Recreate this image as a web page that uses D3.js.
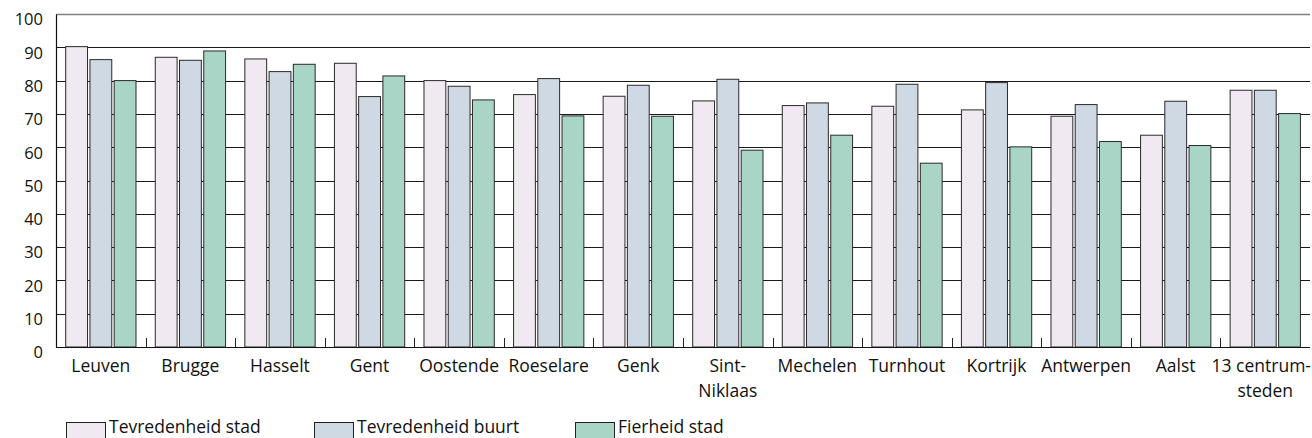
<!DOCTYPE html>
<html><head><meta charset="utf-8">
<script src="https://cdn.jsdelivr.net/npm/d3@7"></script>
<style>
body{margin:0;background:#fff;}
text{font-family:"Open Sans",sans-serif;fill:#111;}
</style></head>
<body><svg id="c" width="1312" height="438"></svg>
<script>
const categories = ["Leuven","Brugge","Hasselt","Gent","Oostende","Roeselare","Genk","Sint-|Niklaas","Mechelen","Turnhout","Kortrijk","Antwerpen","Aalst","13 centrum-|steden"];
const seriesNames = ["Tevredenheid stad","Tevredenheid buurt","Fierheid stad"];
const tevredenheidStad  = [90.2,87.0,86.5,85.2,80.0,75.8,75.3,73.9,72.5,72.3,71.2,69.3,63.6,77.1];
const tevredenheidBuurt = [86.3,86.1,82.7,75.2,78.3,80.6,78.6,80.4,73.3,78.9,79.4,72.8,73.8,77.1];
const fierheidStad      = [80.0,88.9,84.9,81.4,74.2,69.4,69.3,59.1,63.6,55.2,60.1,61.7,60.5,70.1];
const yTicks = [0,10,20,30,40,50,60,70,80,90,100];
const colors = ["#f0e9f1","#cfd9e3","#a8d5c6"];

const seriesValues = [tevredenheidStad, tevredenheidBuurt, fierheidStad];
const svg = d3.select("#c");
const W = 1312, L = 56, R = 1310, T = 14, B = 347;

const x0 = d3.scaleBand().domain(categories).range([L, R]).padding(0);
const x1 = d3.scaleBand().domain(seriesNames).range([9.7, 80]).paddingInner(0.1);
const y = d3.scaleLinear().domain([0,100]).range([B, T]);

// gridlines
svg.append("g").selectAll("line").data(yTicks.filter(d=>d>0 && d<100)).join("line")
  .attr("x1", L).attr("x2", R).attr("y1", d=>Math.round(y(d))+0.5).attr("y2", d=>Math.round(y(d))+0.5)
  .attr("stroke", "#1a1a1a").attr("stroke-width", 1);
// top border
svg.append("line").attr("x1", L).attr("x2", R).attr("y1", T+0.5).attr("y2", T+0.5)
  .attr("stroke", "#808080").attr("stroke-width", 1.5);

// bars
const groups = svg.append("g").selectAll("g").data(categories).join("g")
  .attr("transform", d=>`translate(${x0(d)},0)`);
groups.selectAll("rect").data((d,i)=>seriesNames.map((s,j)=>({s, v: seriesValues[j][i], j})))
  .join("rect")
  .attr("x", d=>x1(d.s)).attr("width", x1.bandwidth())
  .attr("y", d=>y(d.v)).attr("height", d=>B - y(d.v))
  .attr("fill", d=>colors[d.j]).attr("stroke", "#2a2a2a").attr("stroke-width", 1);

// y axis
const yAxis = d3.axisLeft(y).tickValues(yTicks).tickSize(0).tickPadding(13);
const ya = svg.append("g").attr("transform", `translate(${L},0)`).call(yAxis);
ya.select(".domain").attr("stroke", "#111").attr("stroke-width", 1.2);
ya.selectAll("text").style("font-size", "16.5px").attr("dy", "0.66em").attr("fill", "#111")
  .attr("font-family", "Open Sans");

// x axis baseline and ticks
svg.append("line").attr("x1", L).attr("x2", R).attr("y1", B+0.5).attr("y2", B+0.5)
  .attr("stroke", "#111").attr("stroke-width", 1.2);
svg.append("g").selectAll("line").data(categories.slice(1)).join("line")
  .attr("x1", d=>Math.round(x0(d))+0.5).attr("x2", d=>Math.round(x0(d))+0.5)
  .attr("y1", B).attr("y2", B-9).attr("stroke", "#222").attr("stroke-width", 1);

// x labels (each line centered under its group, kept inside the picture)
const lab = svg.append("g");
categories.forEach(d=>{
  const cx = x0(d) + x0.bandwidth()/2;
  d.split("|").forEach((p,i)=>{
    const t = lab.append("text").attr("y", 372 + i*25).style("font-size", "17.5px").text(p);
    const w = t.node().getComputedTextLength();
    const xs = Math.min(cx - w/2, W - 1 - w);
    t.attr("x", xs);
  });
});

// legend
const legX = [66, 314, 575];
const leg = svg.append("g").selectAll("g").data(seriesNames).join("g")
  .attr("transform", (d,i)=>`translate(${legX[i]},422)`);
leg.append("rect").attr("x", 0.5).attr("y", 0.5).attr("width", 39).attr("height", 16)
  .attr("fill", (d,i)=>colors[i]).attr("stroke", "#222").attr("stroke-width", 1);
leg.append("text").attr("x", 43).attr("y", 11).style("font-size", "17.5px").text(d=>d);
</script></body></html>
